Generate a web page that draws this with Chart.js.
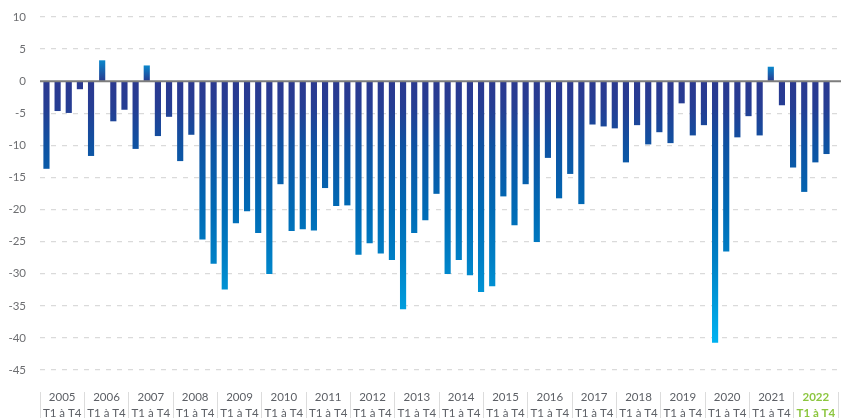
<!DOCTYPE html>
<html>
<head>
<meta charset="utf-8">
<script src="https://cdn.jsdelivr.net/npm/chart.js@4.4.0/dist/chart.umd.min.js"></script>
<style>
  html, body { margin: 0; padding: 0; background: #ffffff; }
  #wrap { width: 851px; height: 418px; position: relative; }
</style>
</head>
<body>
<div id="wrap"><canvas id="c"></canvas></div>
<script>
// ---- Data ----
const years = ['2005','2006','2007','2008','2009','2010','2011','2012','2013',
               '2014','2015','2016','2017','2018','2019','2020','2021','2022'];
const periodLabel = 'T1 à T4';
const highlightYear = '2022';
const values = [
  -13.6, -4.6, -4.9, -1.2,
  -11.6, 3.2, -6.2, -4.4,
  -10.5, 2.4, -8.5, -5.5,
  -12.4, -8.3, -24.6, -28.4,
  -32.4, -22.1, -20.2, -23.6,
  -30.0, -16.0, -23.3, -23.0,
  -23.2, -16.6, -19.4, -19.3,
  -27.0, -25.2, -26.8, -27.8,
  -35.5, -23.6, -21.6, -17.5,
  -30.0, -27.8, -30.2, -32.8,
  -31.9, -17.9, -22.4, -16.0,
  -25.0, -11.9, -18.2, -14.4,
  -19.1, -6.7, -7.0, -7.3,
  -12.6, -6.8, -9.8, -7.9,
  -9.6, -3.4, -8.4, -6.8,
  -40.7, -26.5, -8.7, -5.4,
  -8.4, 2.2, -3.7, -13.4,
  -17.2, -12.6, -11.3
];
const yMin = -45, yMax = 10, yStep = 5;

const FONT = "Lato, 'Open Sans', sans-serif";

function barColor(ctx) {
  const chart = ctx.chart;
  const area = chart.chartArea;
  if (!area || !ctx.raw) return '#2b3990';
  const y = chart.scales.y;
  const v = ctx.raw.y;
  const y0 = y.getPixelForValue(0);
  const c = chart.ctx;
  if (v >= 0) {
    const g = c.createLinearGradient(0, y0, 0, y.getPixelForValue(v));
    g.addColorStop(0, '#283a8f');
    g.addColorStop(1, '#0a86cb');
    return g;
  }
  const g = c.createLinearGradient(0, y0, 0, y.getPixelForValue(-40));
  g.addColorStop(0, '#2b3990');
  g.addColorStop(0.1, '#263d93');
  g.addColorStop(0.25, '#0f52a2');
  g.addColorStop(0.5, '#006ab5');
  g.addColorStop(0.7, '#0080c6');
  g.addColorStop(0.875, '#009cdc');
  g.addColorStop(1, '#00b0ef');
  return g;
}

const zeroLine = {
  id: 'zeroLine',
  afterDatasetsDraw(chart) {
    const { ctx, chartArea, scales } = chart;
    const py = scales.y.getPixelForValue(0);
    ctx.save();
    ctx.strokeStyle = '#7d7d7d';
    ctx.lineWidth = 2;
    ctx.beginPath();
    ctx.moveTo(chartArea.left, py);
    ctx.lineTo(chartArea.right + 3, py);
    ctx.stroke();
    ctx.restore();
  }
};

new Chart(document.getElementById('c'), {
  type: 'bar',
  data: {
    datasets: [{
      data: values.map((v, i) => ({ x: i, y: v })),
      backgroundColor: barColor,
      borderWidth: 0,
      barThickness: 5.5,
      xAxisID: 'x',
      yAxisID: 'y'
    }]
  },
  options: {
    responsive: true,
    maintainAspectRatio: false,
    animation: false,
    devicePixelRatio: 1,
    layout: { padding: { top: 17, right: 13, bottom: 0, left: 0 } },
    plugins: { legend: { display: false }, tooltip: { enabled: false } },
    scales: {
      x: {
        type: 'linear',
        position: 'bottom',
        min: -0.58,
        max: 71.03,
        offset: false,
        weight: 0,
        grid: { display: false, offset: false },
        border: { display: false },
        ticks: { display: false },
        afterFit: s => { s.height = 22; }
      },
      xYear: {
        type: 'category',
        labels: years.map(y => [y, periodLabel]),
        position: 'bottom',
        weight: 1,
        offset: true,
        grid: {
          offset: true,
          drawOnChartArea: false,
          drawTicks: true,
          tickLength: 26,
          color: '#dcdcdc',
          lineWidth: 1
        },
        border: { display: false },
        ticks: {
          padding: -28,
          autoSkip: false,
          maxRotation: 0,
          color: ctx => (years[ctx.index] === highlightYear ? '#8cc63f' : '#5d6066'),
          font: ctx => ({ family: FONT, size: 11.5, lineHeight: 1.35,
                          weight: years[ctx.index] === highlightYear ? 'bold' : 'normal' })
        },
        afterFit: s => { s.height = 26; s.paddingLeft = 0; s.paddingRight = 0; }
      },
      y: {
        type: 'linear',
        min: yMin,
        max: yMax,
        ticks: {
          stepSize: yStep,
          padding: 14,
          color: '#6d6e71',
          font: { family: FONT, size: 11.5 }
        },
        grid: {
          color: ctx => (ctx.tick && ctx.tick.value === 0 ? 'rgba(0,0,0,0)' : '#dadada'),
          lineWidth: 1.3,
          drawTicks: false
        },
        border: { display: false, dash: [5, 6] },
        afterFit: s => { s.width = 40; s.paddingTop = 0; s.paddingBottom = 0; }
      }
    }
  },
  plugins: [zeroLine]
});
</script>
</body>
</html>
